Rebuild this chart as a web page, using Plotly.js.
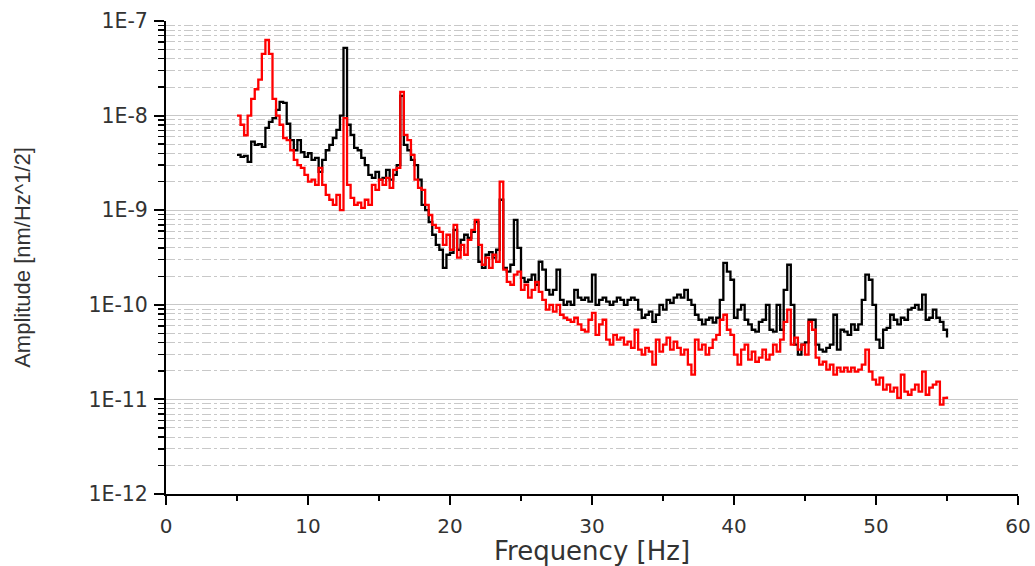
<!DOCTYPE html>
<html>
<head>
<meta charset="utf-8">
<script src="https://cdn.plot.ly/plotly-3.0.1.min.js"></script>
<style>html,body{margin:0;padding:0;background:#fff;}#chart{width:1035px;height:566px;}</style>
</head>
<body>
<div id="chart"></div>
<script>
// Frequency bins (Hz): 5.00 .. 55.00 in 0.25 Hz steps
const freqStart = 5.0, freqStep = 0.25, nBins = 201;
const frequency = [];
for (let i = 0; i < nBins; i++) frequency.push(+(freqStart + i * freqStep).toFixed(2));

// Black trace amplitude [nm/Hz^1/2]
const ampBlack = [
  3.85e-9, 3.67e-9, 3.76e-9, 3.24e-9,
  5.3e-9, 4.9e-9, 5.0e-9, 4.67e-9,
  7.4e-9, 8.6e-9, 9.4e-9, 1.15e-8,
  1.4e-8, 1.36e-8, 8.2e-9, 5.5e-9,
  4.3e-9, 5.5e-9, 4.1e-9, 3.67e-9,
  4.0e-9, 3.4e-9, 3.57e-9, 2.54e-9,
  3.4e-9, 4.3e-9, 4.9e-9, 5.8e-9,
  7.05e-9, 1.0e-8, 5.2e-8, 8.0e-9,
  6.25e-9, 4.55e-9, 4.3e-9, 3.57e-9,
  3.0e-9, 2.36e-9, 2.2e-9, 2.54e-9,
  2.1e-9, 2.2e-9, 2.67e-9, 2.1e-9,
  2.36e-9, 3.0e-9, 1.62e-8, 4.9e-9,
  4.3e-9, 3.4e-9, 3.0e-9, 2.1e-9,
  1.14e-9, 1.0e-9, 7.5e-10, 5.5e-10,
  4.3e-10, 3.82e-10, 2.46e-10, 3.38e-10,
  3.55e-10, 6.2e-10, 3.82e-10, 4.86e-10,
  5.5e-10, 5.1e-10, 5.9e-10, 7.5e-10,
  2.85e-10, 2.46e-10, 3.38e-10, 3.6e-10,
  3.15e-10, 3.82e-10, 1.29e-9, 2.46e-10,
  2.24e-10, 2.65e-10, 7.9e-10, 4.0e-10,
  1.93e-10, 1.75e-10, 1.84e-10, 2.08e-10,
  1.63e-10, 2.85e-10, 2.35e-10, 1.44e-10,
  1.28e-10, 1.44e-10, 2.35e-10, 1.13e-10,
  1.0e-10, 1.08e-10, 1.0e-10, 1.44e-10,
  1.19e-10, 1.13e-10, 1.19e-10, 1.08e-10,
  2.08e-10, 1.0e-10, 1.13e-10, 1.19e-10,
  1.08e-10, 1.0e-10, 1.08e-10, 1.19e-10,
  1.13e-10, 1.0e-10, 1.13e-10, 1.19e-10,
  1.13e-10, 8.9e-11, 7.3e-11, 7.85e-11,
  8.45e-11, 6.6e-11, 7.85e-11, 1.0e-10,
  8.9e-11, 1.13e-10, 1.05e-10, 1.19e-10,
  1.28e-10, 1.19e-10, 1.44e-10, 1.13e-10,
  1.0e-10, 7.85e-11, 6.95e-11, 6.2e-11,
  6.95e-11, 7.3e-11, 6.5e-11, 7.3e-11,
  1.13e-10, 2.78e-10, 2.24e-10, 1.84e-10,
  7.3e-11, 8.9e-11, 1.0e-10, 6.95e-11,
  6.2e-11, 5.45e-11, 5.2e-11, 6.6e-11,
  6.95e-11, 1.0e-10, 5.45e-11, 5.2e-11,
  1.0e-10, 5.45e-11, 1.44e-10, 2.65e-10,
  1.0e-10, 3.8e-11, 2.97e-11, 3.8e-11,
  4.0e-11, 6.95e-11, 6.95e-11, 3.8e-11,
  3.36e-11, 3.2e-11, 3.5e-11, 3.8e-11,
  7.85e-11, 3.36e-11, 5.45e-11, 5.2e-11,
  4.8e-11, 6.2e-11, 5.45e-11, 6.2e-11,
  1.13e-10, 2.08e-10, 1.84e-10, 1.0e-10,
  4.28e-11, 3.5e-11, 5.45e-11, 5.7e-11,
  7.85e-11, 6.95e-11, 6.2e-11, 7.3e-11,
  6.95e-11, 8.9e-11, 9.3e-11, 1.0e-10,
  8.9e-11, 1.28e-10, 6.95e-11, 7.3e-11,
  8.9e-11, 7.3e-11, 6.6e-11, 5.45e-11,
  4.5e-11
];

// Red trace amplitude [nm/Hz^1/2]
const ampRed = [
  1.0e-8, 8.0e-9, 6.2e-9, 1.0e-8,
  1.5e-8, 1.9e-8, 2.4e-8, 4.5e-8,
  6.3e-8, 4.5e-8, 1.5e-8, 1.0e-8,
  8.0e-9, 5.8e-9, 5.5e-9, 4.3e-9,
  3.4e-9, 3.0e-9, 2.8e-9, 2.36e-9,
  2.0e-9, 2.1e-9, 1.85e-9, 2.8e-9,
  1.85e-9, 1.45e-9, 1.29e-9, 1.14e-9,
  1.45e-9, 1.0e-9, 9.4e-9, 1.85e-9,
  1.35e-9, 1.14e-9, 1.2e-9, 1.06e-9,
  1.29e-9, 1.14e-9, 1.85e-9, 1.64e-9,
  2.1e-9, 1.85e-9, 2.2e-9, 1.72e-9,
  2.67e-9, 2.8e-9, 1.78e-8, 6.25e-9,
  5.5e-9, 3.85e-9, 2.1e-9, 1.72e-9,
  1.64e-9, 1.14e-9, 8.9e-10, 7.0e-10,
  6.5e-10, 5.9e-10, 4.3e-10, 5.5e-10,
  3.82e-10, 7.0e-10, 3.15e-10, 4.3e-10,
  3.38e-10, 4.86e-10, 6.2e-10, 7.9e-10,
  4.3e-10, 2.65e-10, 3.15e-10, 2.46e-10,
  3.38e-10, 2.85e-10, 2.0e-9, 2.35e-10,
  1.75e-10, 1.63e-10, 2.08e-10, 2.24e-10,
  1.44e-10, 1.63e-10, 1.19e-10, 1.44e-10,
  1.75e-10, 1.37e-10, 1.13e-10, 8.9e-11,
  1.0e-10, 8.45e-11, 1.0e-10, 7.85e-11,
  7.3e-11, 6.95e-11, 6.6e-11, 7.3e-11,
  6.2e-11, 5.45e-11, 5.2e-11, 6.95e-11,
  8.2e-11, 4.8e-11, 6.2e-11, 6.95e-11,
  4.28e-11, 3.8e-11, 4.8e-11, 4.28e-11,
  4.5e-11, 3.8e-11, 4.08e-11, 3.5e-11,
  5.45e-11, 3.36e-11, 2.97e-11, 3.5e-11,
  3.2e-11, 2.33e-11, 4.28e-11, 3.2e-11,
  3.8e-11, 4.5e-11, 3.36e-11, 4.08e-11,
  3.5e-11, 2.97e-11, 3.36e-11, 2.33e-11,
  1.83e-11, 4.28e-11, 3.36e-11, 3.8e-11,
  2.97e-11, 3.5e-11, 4.28e-11, 4.8e-11,
  6.95e-11, 7.85e-11, 5.45e-11, 4.8e-11,
  2.97e-11, 2.33e-11, 3.36e-11, 3.8e-11,
  2.63e-11, 3.2e-11, 2.5e-11, 2.77e-11,
  3.36e-11, 2.63e-11, 2.97e-11, 3.8e-11,
  3.2e-11, 4.28e-11, 6.6e-11, 8.9e-11,
  3.8e-11, 4.5e-11, 3.36e-11, 3.8e-11,
  2.97e-11, 6.6e-11, 5.45e-11, 2.77e-11,
  2.33e-11, 2.5e-11, 2.06e-11, 2.33e-11,
  1.83e-11, 2.17e-11, 1.97e-11, 2.17e-11,
  1.97e-11, 2.17e-11, 1.97e-11, 2.06e-11,
  2.33e-11, 3.36e-11, 1.97e-11, 1.62e-11,
  1.43e-11, 1.7e-11, 1.27e-11, 1.43e-11,
  1.21e-11, 1.33e-11, 1.04e-11, 1.83e-11,
  1.21e-11, 1.12e-11, 1.27e-11, 1.43e-11,
  1.21e-11, 1.97e-11, 1.12e-11, 1.33e-11,
  1.43e-11, 1.54e-11, 8.8e-12, 1.04e-11,
  1.07e-11
];

// Axis tick labels
const yTickVals = [1e-12, 1e-11, 1e-10, 1e-9, 1e-8, 1e-7];
const yTickText = ['1E-12', '1E-11', '1E-10', '1E-9', '1E-8', '1E-7'];
const xTickVals = [0, 10, 20, 30, 40, 50, 60];

// Minor (2..9 per decade) positions for gridlines/ticks
const yMinorVals = [];
for (let e = -12; e < -7; e++) for (let m = 2; m <= 9; m++) yMinorVals.push(m * Math.pow(10, e));

const traces = [
  {x: frequency, y: ampBlack, type: 'scatter', mode: 'lines', line: {color: '#000000', width: 2.3, shape: 'hv'}, showlegend: false},
  {x: frequency, y: ampRed, type: 'scatter', mode: 'lines', line: {color: '#ff0000', width: 2.3, shape: 'hv'}, showlegend: false}
];

const layout = {
  width: 1035, height: 566,
  margin: {l: 166, r: 17, t: 21, b: 72, pad: 0},
  paper_bgcolor: '#ffffff', plot_bgcolor: '#ffffff',
  showlegend: false,
  xaxis: {
    range: [0, 60], tickmode: 'array', tickvals: xTickVals,
    showgrid: false, zeroline: false,
    showline: true, linecolor: '#000', linewidth: 2,
    ticks: 'outside', ticklen: 9, tickwidth: 2, tickcolor: '#000',
    tickfont: {family: 'DejaVu Sans', size: 20, color: '#333'},
    ticklabelstandoff: 4,
    minor: {tickmode: 'linear', tick0: 0, dtick: 5, ticks: 'outside', ticklen: 5, tickwidth: 2, tickcolor: '#000', showgrid: false},
    title: {text: 'Frequency [Hz]', font: {family: 'DejaVu Sans', size: 26, color: '#333'}, standoff: 8}
  },
  yaxis: {
    type: 'log', range: [-12, -7],
    tickmode: 'array', tickvals: yTickVals, ticktext: yTickText,
    showgrid: true, gridcolor: '#c8c8c8', gridwidth: 1,
    zeroline: false,
    showline: true, linecolor: '#000', linewidth: 2,
    ticks: 'outside', ticklen: 10, tickwidth: 2, tickcolor: '#000',
    tickfont: {family: 'DejaVu Sans', size: 20.5, color: '#333'},
    ticklabelstandoff: 2,
    minor: {tickmode: 'array', tickvals: yMinorVals, ticks: 'outside', ticklen: 6, tickwidth: 1.5, tickcolor: '#000',
            showgrid: true, gridcolor: '#c8c8c8', gridwidth: 1, griddash: 'dashdot'},
    title: {text: 'Amplitude [nm/Hz^1/2]', font: {family: 'Liberation Sans', size: 22, color: '#333'}, standoff: 52}
  }
};

Plotly.newPlot('chart', traces, layout, {displayModeBar: false, staticPlot: true});
</script>
</body>
</html>
